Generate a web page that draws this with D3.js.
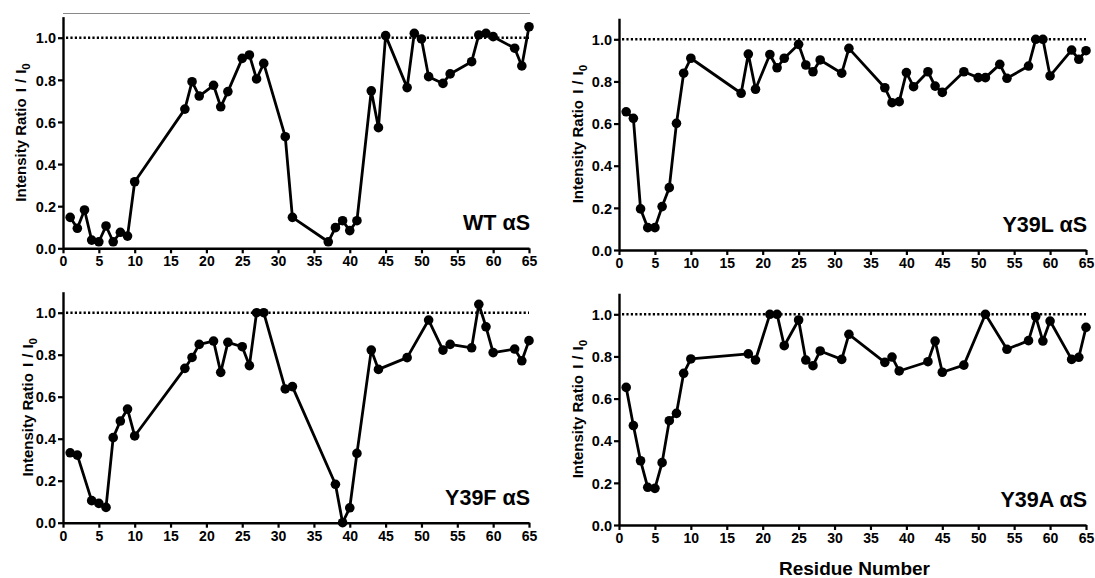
<!DOCTYPE html>
<html>
<head>
<meta charset="utf-8">
<script src="https://cdn.jsdelivr.net/npm/d3@7"></script>
<style>
  body { margin: 0; background: #fff; }
  svg { display: block; }
  text { font-family: "Liberation Sans", Arial, Helvetica, sans-serif; font-weight: bold; fill: #000; }
</style>
</head>
<body>
<svg id="chart" width="1095" height="578"></svg>
<script>
// residues + intensity ratios
const wtRes = [1,2,3,4,5,6,7,8,9,10,17,18,19,21,22,23,25,26,27,28,31,32,37,38,39,40,41,43,44,45,48,49,50,51,53,54,57,58,59,60,63,64,65];
const wtVal = [0.147,0.095,0.182,0.039,0.031,0.106,0.031,0.076,0.058,0.316,0.661,0.791,0.723,0.774,0.672,0.744,0.902,0.918,0.804,0.878,0.530,0.147,0.031,0.098,0.131,0.084,0.131,0.748,0.573,1.010,0.763,1.021,0.994,0.815,0.783,0.828,0.886,1.013,1.021,1.005,0.950,0.866,1.052];

const y39lRes = [1,2,3,4,5,6,7,8,9,10,17,18,19,21,22,23,25,26,27,28,31,32,37,38,39,40,41,43,44,45,48,50,51,53,54,57,58,59,60,63,64,65];
const y39lVal = [0.656,0.625,0.195,0.106,0.106,0.206,0.296,0.601,0.839,0.910,0.744,0.930,0.763,0.928,0.865,0.910,0.976,0.878,0.846,0.902,0.839,0.957,0.770,0.699,0.704,0.842,0.775,0.846,0.778,0.748,0.846,0.818,0.818,0.881,0.815,0.873,1.0,1.0,0.826,0.949,0.905,0.946];

const y39fRes = [1,2,4,5,6,7,8,9,10,17,18,19,21,22,23,25,26,27,28,31,32,38,39,40,41,43,44,48,51,53,54,57,58,59,60,63,64,65];
const y39fVal = [0.333,0.322,0.105,0.092,0.073,0.405,0.484,0.541,0.413,0.735,0.787,0.849,0.865,0.716,0.859,0.838,0.748,1.0,1.0,0.637,0.648,0.183,0.0,0.071,0.330,0.822,0.730,0.786,0.965,0.822,0.849,0.833,1.040,0.933,0.810,0.827,0.771,0.867];

const y39aRes = [1,2,3,4,5,6,7,8,9,10,18,19,21,22,23,25,26,27,28,31,32,37,38,39,43,44,45,48,51,54,57,58,59,60,63,64,65];
const y39aVal = [0.653,0.472,0.305,0.179,0.174,0.296,0.495,0.530,0.720,0.788,0.812,0.783,1.0,1.0,0.851,0.973,0.783,0.756,0.826,0.786,0.905,0.772,0.797,0.731,0.775,0.873,0.725,0.759,1.0,0.834,0.875,0.989,0.873,0.968,0.786,0.796,0.938];

const panelNames = ["WT \u03b1S", "Y39L \u03b1S", "Y39F \u03b1S", "Y39A \u03b1S"];
const xTicks = d3.range(0, 66, 5);
const yTicks = [0, 0.2, 0.4, 0.6, 0.8, 1.0];
const xMax = 65, yMax = 1.1, refLevel = 1.0;

const series = [
  {res: wtRes, val: wtVal},
  {res: y39lRes, val: y39lVal},
  {res: y39fRes, val: y39fVal},
  {res: y39aRes, val: y39aVal}
];

// panel frames (pixel layout)
const frames = [
  {x0: 63,  x1: 529,  y0: 248.3, span: 210.6, labX: 20},
  {x0: 619, x1: 1086, y0: 250,   span: 210.7, labX: 577},
  {x0: 63,  x1: 529,  y0: 522.7, span: 210,   labX: 27},
  {x0: 619, x1: 1086, y0: 525,   span: 210.7, labX: 577}
];

const svg = d3.select('#chart');

// odd grey rule above the first panel
svg.append('line')
  .attr('x1', 63).attr('x2', 530).attr('y1', 13.5).attr('y2', 13.5)
  .attr('stroke', '#8a8a8a').attr('stroke-width', 1.2);

frames.forEach((f, i) => {
  let x = d3.scaleLinear().domain([0, xMax]).range([f.x0, f.x1]);
  let y = d3.scaleLinear().domain([0, yMax]).range([f.y0, f.y0 - f.span * yMax]);
  let g = svg.append('g');

  // dotted reference at 1.0
  g.append('line')
    .attr('x1', x(0) + 3).attr('x2', x(xMax))
    .attr('y1', y(refLevel)).attr('y2', y(refLevel))
    .attr('stroke', '#000').attr('stroke-width', 2.4)
    .attr('stroke-dasharray', '2.2,2.2');

  let xAxis = g.append('g')
    .attr('transform', `translate(0,${f.y0})`)
    .call(d3.axisBottom(x).tickValues(xTicks).tickSize(5).tickSizeOuter(0).tickPadding(3));
  let yAxis = g.append('g')
    .attr('transform', `translate(${f.x0},0)`)
    .call(d3.axisLeft(y).tickValues(yTicks).tickFormat(d3.format('.1f')).tickSize(5).tickSizeOuter(0).tickPadding(2));

  [xAxis, yAxis].forEach(a => {
    a.attr('font-size', null).attr('font-family', null);
    a.select('.domain').attr('stroke', '#000').attr('stroke-width', 2.4);
    a.selectAll('.tick line').attr('stroke', '#000').attr('stroke-width', 2.2);
    a.selectAll('.tick text').attr('fill', '#000');
  });
  xAxis.selectAll('.tick text').style('font-size', '14px');
  yAxis.selectAll('.tick text').style('font-size', '14.5px').attr('dy', '0.36em');

  // y title
  let yt = g.append('text')
    .attr('transform', `translate(${f.labX + 6},${(y(0) + y(yMax)) / 2}) rotate(-90)`)
    .attr('text-anchor', 'middle')
    .style('font-size', '15px');
  yt.append('tspan').text('Intensity Ratio ');
  yt.append('tspan').attr('dx', 2).text('I');
  yt.append('tspan').attr('dx', 5).text('/');
  yt.append('tspan').attr('dx', 5).text('I');
  yt.append('tspan').attr('dy', 4).style('font-size', '11.5px').text('0');

  // series
  let pts = series[i].res.map((r, k) => [r, series[i].val[k]]);
  g.append('path')
    .datum(pts)
    .attr('fill', 'none')
    .attr('stroke', '#000')
    .attr('stroke-width', 2.8)
    .attr('stroke-linejoin', 'round')
    .attr('d', d3.line().x(d => x(d[0])).y(d => y(d[1])));

  g.selectAll('circle')
    .data(pts)
    .enter().append('circle')
    .attr('cx', d => x(d[0]))
    .attr('cy', d => y(d[1]))
    .attr('r', 4.8)
    .attr('fill', '#000');

  g.append('text')
    .attr('x', f.x1 + 1)
    .attr('y', f.y0 - 18)
    .attr('text-anchor', 'end')
    .style('font-size', '21.5px')
    .text(panelNames[i]);
});

svg.append('text')
  .attr('x', (frames[3].x0 + frames[3].x1) / 2 + 2)
  .attr('y', 575)
  .attr('text-anchor', 'middle')
  .style('font-size', '19px')
  .text('Residue Number');
</script>
</body>
</html>
